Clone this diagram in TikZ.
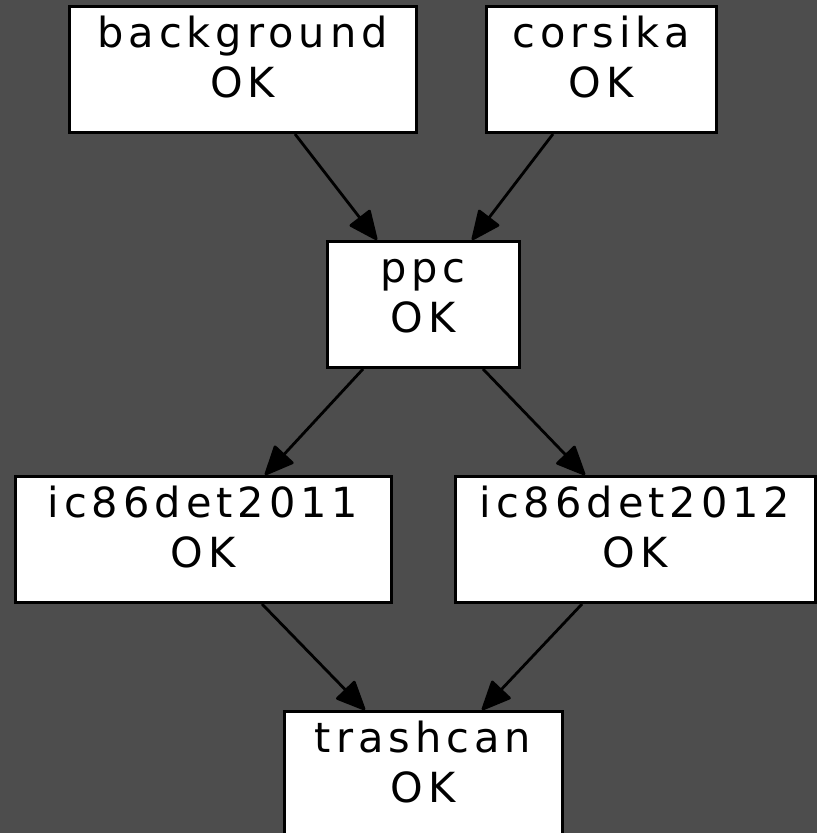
\documentclass[tikz,border=0pt]{standalone}
\usepackage{fontspec}
\setmainfont{DejaVu Sans}[LetterSpace=12]
\usetikzlibrary{arrows.meta}
\definecolor{canvas}{HTML}{4D4D4D}
\tikzset{
  job/.style={draw=black, fill=white, line width=3pt, rectangle, inner sep=0pt,
    align=center, font=\fontsize{41.5pt}{49.5pt}\selectfont,
    text height=90.5pt, text depth=35.5pt},
  dep/.style={draw=black, line width=2.8pt, -{Triangle[length=31pt,width=27pt,round]}}
}
\begin{document}
\begin{tikzpicture}[x=1pt,y=-1pt]
  \fill[canvas] (0,0) rectangle (817,833);
  \clip (0,0) rectangle (817,833);
  \useasboundingbox (0,0) rectangle (817,833);

  % job boxes: centre x, top edge, width
  \node[job, anchor=north, minimum width=347pt] (bg) at (242.5,5) {background\\OK};
  \node[job, anchor=north, minimum width=230pt] (cors) at (601,5) {corsika\\OK};
  \node[job, anchor=north, minimum width=192pt] (ppc) at (423,240) {ppc\\OK};
  \node[job, anchor=north, minimum width=376pt] (ic1) at (203,475) {ic86det2011\\OK};
  \node[job, anchor=north, minimum width=360pt] (ic2) at (635,475) {ic86det2012\\OK};
  \node[job, anchor=north, minimum width=278pt] (trash) at (423,710) {trashcan\\OK};

  % dependencies
  \draw[dep] ([xshift=52.5pt]bg.south) -- ([xshift=-46pt]ppc.north);
  \draw[dep] ([xshift=-48pt]cors.south) -- ([xshift=49pt]ppc.north);
  \draw[dep] ([xshift=-60pt]ppc.south) -- ([xshift=62pt]ic1.north);
  \draw[dep] ([xshift=60pt]ppc.south) -- ([xshift=-50pt]ic2.north);
  \draw[dep] ([xshift=59pt]ic1.south) -- ([xshift=-58pt]trash.north);
  \draw[dep] ([xshift=-53pt]ic2.south) -- ([xshift=59pt]trash.north);
\end{tikzpicture}
\end{document}
